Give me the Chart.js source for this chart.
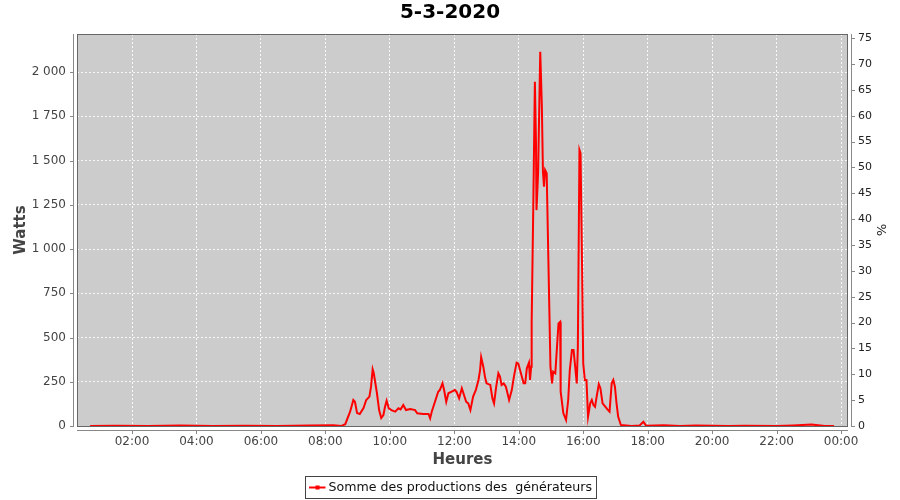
<!DOCTYPE html>
<html>
<head>
<meta charset="utf-8">
<title>5-3-2020</title>
<script src="https://cdn.jsdelivr.net/npm/chart.js@4.4.1/dist/chart.umd.min.js"></script>
<style>
	html, body { margin: 0; padding: 0; background: #fff; }
	#wrap { width: 900px; height: 500px; }
</style>
</head>
<body>
<div id="wrap"><canvas id="chartProd" width="900" height="500"></canvas></div>
<script>
'use strict'

// heures de relevé et puissance (W)
const times = ['00:42', '01:30', '02:30', '03:30', '04:30', '05:30', '06:30', '07:30', '08:15', '08:30',
	'08:37', '08:46', '08:52', '08:55', '08:59', '09:04', '09:11', '09:16', '09:22', '09:25',
	'09:28', '09:30', '09:36', '09:40', '09:44', '09:48', '09:51', '09:54', '09:58', '10:03',
	'10:10', '10:16', '10:20', '10:25', '10:30', '10:38', '10:47', '10:51', '11:02', '11:12',
	'11:15', '11:18', '11:24', '11:30', '11:33', '11:38', '11:41', '11:45', '11:49', '11:55',
	'12:01', '12:04', '12:09', '12:14', '12:17', '12:22', '12:26', '12:30', '12:35', '12:40',
	'12:45', '12:48', '12:50', '12:54', '12:57', '13:00', '13:07', '13:11', '13:14', '13:18',
	'13:22', '13:25', '13:28', '13:32', '13:36', '13:39', '13:42', '13:47', '13:51', '13:56',
	'13:59', '14:04', '14:09', '14:12', '14:15', '14:19', '14:21', '14:23', '14:24', '14:27',
	'14:30', '14:32', '14:33', '14:36', '14:40', '14:43', '14:45', '14:47', '14:49', '14:52',
	'14:55', '14:59', '15:02', '15:04', '15:08', '15:12', '15:14', '15:17', '15:18', '15:23',
	'15:28', '15:32', '15:35', '15:39', '15:42', '15:45', '15:48', '15:50', '15:53', '15:55',
	'15:58', '16:00', '16:03', '16:06', '16:09', '16:13', '16:16', '16:19', '16:22', '16:25',
	'16:29', '16:32', '16:36', '16:41', '16:45', '16:49', '16:53', '16:56', '16:59', '17:02',
	'17:05', '17:10', '17:30', '17:45', '17:52', '17:57', '18:30', '19:00', '19:30', '20:30',
	'21:00', '22:00', '22:30', '23:05', '23:30', '23:47'];
const watts = [0, 2, 0, 3, 0, 2, 0, 3, 4, 0,
	10, 81, 147, 137, 73, 68, 102, 147, 166, 222,
	320, 299, 185, 90, 45, 62, 109, 143, 100, 90,
	81, 100, 94, 119, 90, 96, 90, 72, 68, 68,
	43, 81, 137, 194, 203, 241, 203, 137, 185, 194,
	203, 194, 156, 213, 185, 137, 128, 90, 166, 203,
	260, 316, 388, 335, 279, 241, 232, 156, 128, 222,
	298, 279, 232, 241, 222, 185, 147, 203, 279, 358,
	354, 298, 241, 241, 326, 358, 260, 335, 580, 1239,
	1945, 1616, 1220, 1428, 2115, 1804, 1437, 1352, 1446, 1428,
	957, 335, 241, 307, 298, 486, 580, 589, 194, 72,
	34, 147, 316, 429, 429, 335, 241, 448, 1559, 1540,
	863, 354, 260, 260, 53, 128, 147, 119, 109, 166,
	236, 213, 128, 109, 94, 81, 241, 260, 222, 128,
	53, 6, 0, 3, 24, 2, 4, 0, 3, 0,
	2, 0, 3, 8, 0, 0];

const hourTicks = [2, 4, 6, 8, 10, 12, 14, 16, 18, 20, 22, 24];
const wattTicks = [0, 250, 500, 750, 1000, 1250, 1500, 1750, 2000];
const pctTicks = [0, 5, 10, 15, 20, 25, 30, 35, 40, 45, 50, 55, 60, 65, 70, 75];

const toHours = s => {
	const [h, m] = s.split(':').map(Number);
	return h + m / 60;
};

const points = times.map((t, i) => ({ x: toHours(t), y: watts[i] }));

const tickFont = { family: 'DejaVu Sans', size: 12 };
const titleFont = { family: 'DejaVu Sans', size: 15, weight: 'bold' };

// fond gris, cadre, axes décalés et légende encadrée façon JFreeChart
const plotFrame = {
	id: 'plotFrame',
	beforeDraw(chart) {
		const { ctx, chartArea: { left, top, right, bottom } } = chart;
		ctx.save();
		ctx.fillStyle = '#cccccc';
		ctx.fillRect(left, top, right - left, bottom - top);
		ctx.restore();
	},
	afterDraw(chart) {
		const { ctx, chartArea: { left, top, right, bottom }, scales } = chart;
		ctx.save();
		ctx.lineWidth = 1;
		ctx.strokeStyle = '#666';
		ctx.strokeRect(left + 0.5, top + 0.5, right - left - 1, bottom - top);

		ctx.strokeStyle = '#888';
		ctx.beginPath();
		// axe gauche
		ctx.moveTo(left - 3.5, top);
		ctx.lineTo(left - 3.5, bottom);
		scales.y.ticks.forEach(t => {
			const y = Math.round(scales.y.getPixelForValue(t.value)) + 0.5;
			ctx.moveTo(left - 7, y);
			ctx.lineTo(left - 3, y);
		});
		// axe droit
		ctx.moveTo(right + 3.5, top);
		ctx.lineTo(right + 3.5, bottom);
		scales.pct.ticks.forEach(t => {
			const y = Math.round(scales.pct.getPixelForValue(t.value)) + 0.5;
			ctx.moveTo(right + 3, y);
			ctx.lineTo(right + 7, y);
		});
		// axe du bas
		ctx.moveTo(left, bottom + 4.5);
		ctx.lineTo(right, bottom + 4.5);
		scales.x.ticks.forEach(t => {
			const x = Math.round(scales.x.getPixelForValue(t.value)) + 0.5;
			ctx.moveTo(x, bottom + 4);
			ctx.lineTo(x, bottom + 8);
		});
		ctx.stroke();

		// légende
		const ds = chart.data.datasets[0];
		ctx.font = '12.6px "DejaVu Sans"';
		const tw = ctx.measureText(ds.label).width;
		const w = Math.round(4 + 16 + 3 + tw + 4);
		const x0 = Math.round(450 - w / 2) + 0.5;
		const y0 = 476.5;
		ctx.strokeStyle = '#444';
		ctx.strokeRect(x0, y0, w, 22);
		ctx.strokeStyle = ds.borderColor;
		ctx.lineWidth = 2;
		ctx.beginPath();
		ctx.moveTo(x0 + 3.5, y0 + 11);
		ctx.lineTo(x0 + 20, y0 + 11);
		ctx.stroke();
		ctx.fillStyle = ds.borderColor;
		ctx.fillRect(x0 + 10, y0 + 9, 4, 4);
		ctx.fillStyle = '#111';
		ctx.textBaseline = 'middle';
		ctx.fillText(ds.label, x0 + 23, y0 + 11.5);
		ctx.restore();
	},
};

let chartProd = new Chart(document.getElementById('chartProd'), {
	type: 'line',
	data: {
		datasets: [{
			label: 'Somme des productions des  générateurs',
			data: points,
			borderColor: '#ff0000',
			backgroundColor: '#ff0000',
			borderWidth: 2,
			pointRadius: 0,
			tension: 0,
			yAxisID: 'y',
		}],
	},
	options: {
		responsive: false,
		animation: false,
		events: [],
		layout: { padding: { bottom: 30 } },
		plugins: {
			title: {
				display: true,
				text: '5-3-2020',
				color: '#000',
				font: { family: 'DejaVu Sans', size: 20, weight: 'bold' },
				padding: { top: 1, bottom: 9 },
			},
			legend: { display: false },
			tooltip: { enabled: false },
		},
		scales: {
			x: {
				type: 'linear',
				min: 0.2935,
				max: 24.215,
				afterBuildTicks: scale => { scale.ticks = hourTicks.map(v => ({ value: v })); },
				afterFit: scale => { scale.height = 44; },
				ticks: {
					color: '#444',
					font: tickFont,
					padding: 9,
					maxRotation: 0,
					callback: v => String(v % 24).padStart(2, '0') + ':00',
				},
				grid: { color: 'rgba(255,255,255,0.85)', lineWidth: 1, drawTicks: false },
				border: { display: false, dash: [2, 2] },
				title: { display: true, text: 'Heures', color: '#444', font: titleFont, padding: { top: 0, bottom: 1 } },
			},
			y: {
				position: 'left',
				min: 0,
				max: 2215,
				afterBuildTicks: scale => { scale.ticks = wattTicks.map(v => ({ value: v })); },
				afterFit: scale => { scale.width = 77; },
				ticks: {
					color: '#444',
					font: tickFont,
					padding: 11,
					callback: v => String(v).replace(/\B(?=(\d{3})+(?!\d))/g, ' '),
				},
				grid: { color: 'rgba(255,255,255,0.85)', lineWidth: 1, drawTicks: false },
				border: { display: false, dash: [2, 2] },
				title: { display: true, text: 'Watts', color: '#444', font: titleFont, padding: { top: 12, bottom: 0 } },
			},
			pct: {
				position: 'right',
				min: 0,
				max: 75.8,
				afterBuildTicks: scale => { scale.ticks = pctTicks.map(v => ({ value: v })); },
				afterFit: scale => { scale.width = 52; },
				ticks: { color: '#222', font: { family: 'DejaVu Sans', size: 11 }, padding: 10 },
				grid: { display: false, drawTicks: false },
				border: { display: false },
				title: { display: true, text: '%', color: '#222', font: { family: 'DejaVu Sans', size: 13 }, padding: { top: 12, bottom: 0 } },
			},
		},
	},
	plugins: [plotFrame],
});
</script>
</body>
</html>
